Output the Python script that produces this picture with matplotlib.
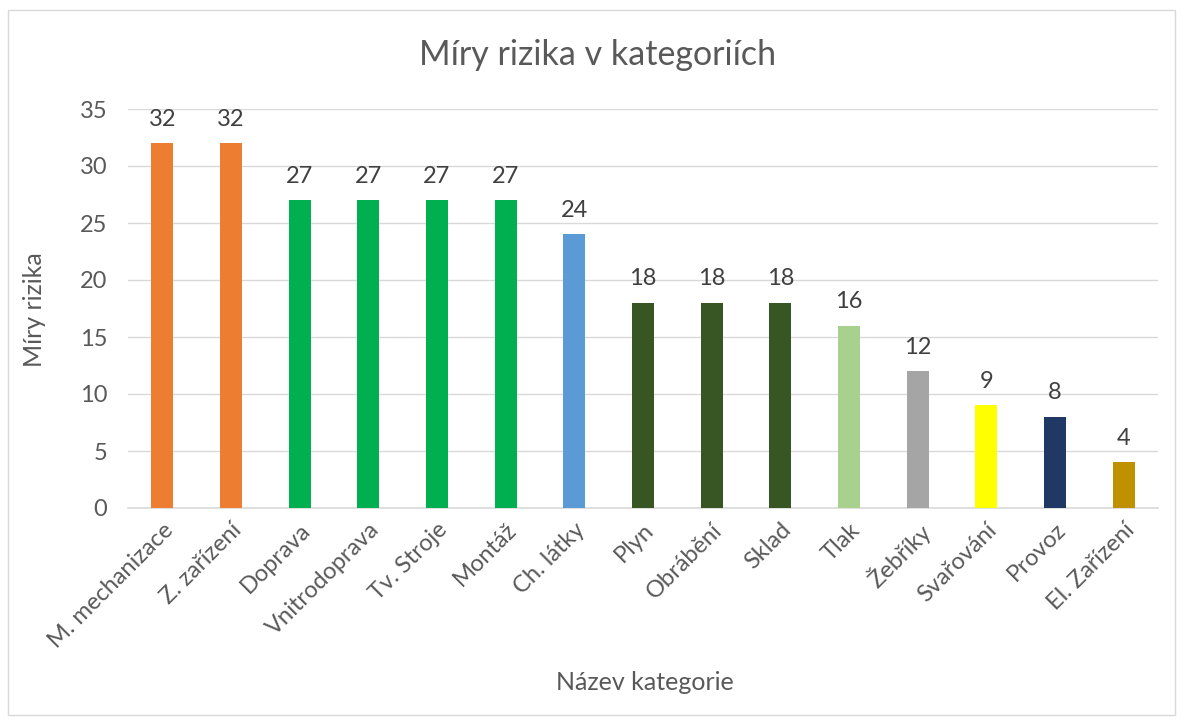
import matplotlib
matplotlib.use('Agg')
import matplotlib.pyplot as plt
from matplotlib.patches import Rectangle

categories = ['M. mechanizace', 'Z. zařízení', 'Doprava', 'Vnitrodoprava', 'Tv. Stroje',
              'Montáž', 'Ch. látky', 'Plyn', 'Obrábění', 'Sklad', 'Tlak', 'Žebříky',
              'Svařování', 'Provoz', 'El. Zařízení']
values = [32, 32, 27, 27, 27, 27, 24, 18, 18, 18, 16, 12, 9, 8, 4]
colors = ['#ED7D31', '#ED7D31', '#00B050', '#00B050', '#00B050', '#00B050', '#5B9BD5',
          '#375623', '#375623', '#375623', '#A9D18E', '#A5A5A5', '#FFFF00', '#203864',
          '#BF9000']
y_ticks = [0, 5, 10, 15, 20, 25, 30, 35]

text_color = '#595959'
plt.rcParams['font.family'] = ['Lato', 'DejaVu Sans']

fig = plt.figure(figsize=(11.84, 7.22), dpi=100)
fig.patches.append(Rectangle((8 / 1184, 7 / 722), 1167 / 1184, 705 / 722,
                             transform=fig.transFigure, fill=False,
                             edgecolor='#D9D9D9', linewidth=1))

ax = fig.add_axes([128 / 1184, 1 - 508 / 722, 1030 / 1184, 399 / 722])
x = range(len(categories))
bars = ax.bar(x, values, width=0.32, color=colors, zorder=3)
for b, v in zip(bars, values):
    ax.text(b.get_x() + b.get_width() / 2, v + 1.2, str(v), ha='center', va='bottom',
            fontsize=17, color='#404040')

ax.set_xlim(-0.5, len(categories) - 0.5)
ax.set_ylim(0, 35)
ax.set_yticks(y_ticks)
ax.yaxis.grid(True, color='#D9D9D9', linewidth=1, zorder=0)
for s in ['top', 'right', 'left']:
    ax.spines[s].set_visible(False)
ax.spines['bottom'].set_color('#D9D9D9')
ax.spines['bottom'].set_linewidth(1.2)
ax.tick_params(axis='both', length=0, labelsize=17, colors=text_color, pad=8)
ax.tick_params(axis='y', pad=15)
ax.set_xticks(list(x))
ax.set_xticklabels(categories, rotation=45, ha='right', rotation_mode='anchor')

fig.text(35 / 1184, 1 - 310 / 722, 'Míry rizika', ha='center', va='center', rotation=90,
         fontsize=18, color=text_color)
fig.text(645 / 1184, 1 - 683 / 722, 'Název kategorie', ha='center', va='center',
         fontsize=18, color=text_color)
fig.text(598 / 1184, 1 - 55 / 722, 'Míry rizika v kategoriích', ha='center', va='center',
         fontsize=24.5, color=text_color)

fig.savefig('out.png', dpi=100)
